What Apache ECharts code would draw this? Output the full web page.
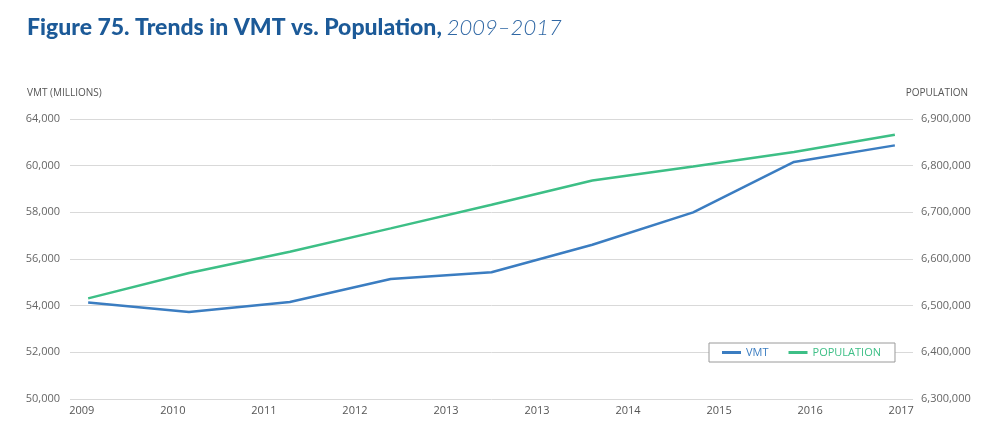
<!DOCTYPE html>
<html>
<head>
<meta charset="utf-8">
<title>Trends in VMT vs. Population</title>
<script src="https://cdn.jsdelivr.net/npm/echarts@6/dist/echarts.min.js"></script>
<style>
    html, body { margin: 0; padding: 0; background: #fff; }
    #chart { width: 1000px; height: 441px; }
</style>
</head>
<body>
<div id="chart"></div>
<script>
"use strict"

// 数据
const years = [2009, 2010, 2011, 2012, 2013, 2014, 2015, 2016, 2017];
const vmt = [54140, 53730, 54160, 55140, 55430, 56610, 58000, 60160, 60870];
const population = [6515600, 6570000, 6615700, 6665600, 6716400, 6768400, 6798400, 6829300, 6866400];

// 刻度文字（原图如此）
const xTickLabels = ["2009", "2010", "2011", "2012", "2013", "2013", "2014", "2015", "2016", "2017"];
const vmtTickLabels = ["50,000", "52,000", "54,000", "56,000", "58,000", "60,000", "64,000"];
const popTickLabels = ["6,300,000", "6,400,000", "6,500,000", "6,600,000", "6,700,000", "6,800,000", "6,900,000"];

const BLUE = "#3b7dc1";
const GREEN = "#3dbf86";
const FONT = "Open Sans";

let myChart = echarts.init(document.getElementById("chart"));

let option = {
    animation: false,
    title: [{
        left: 27,
        top: 16,
        padding: 0,
        text: "{b|Figure 75. Trends in VMT vs. Population,} {i|2009–2017}",
        textStyle: {
            rich: {
                b: { fontFamily: "Lato", fontWeight: 900, fontSize: 23, color: "#1c5a98" },
                i: { fontFamily: "Lato", fontWeight: 300, fontStyle: "italic", fontSize: 22, color: "#2f67a4" }
            }
        }
    }, {
        left: 27,
        top: 88,
        padding: 0,
        text: "VMT (MILLIONS)",
        textStyle: { fontFamily: FONT, fontSize: 10, fontWeight: "normal", color: "#555" }
    }, {
        right: 32,
        top: 88,
        padding: 0,
        text: "POPULATION",
        textStyle: { fontFamily: FONT, fontSize: 10, fontWeight: "normal", color: "#555" }
    }],
    grid: {
        left: 70,
        right: 87,
        top: 119,
        bottom: 42,
        outerBoundsMode: "none"
    },
    legend: {
        left: 709,
        top: 343,
        backgroundColor: "#fff",
        borderColor: "#9a9a9a",
        borderWidth: 1,
        borderRadius: 0,
        padding: [4, 14, 4, 13],
        icon: "rect",
        itemWidth: 19,
        itemHeight: 3,
        itemGap: 20,
        textStyle: { fontFamily: FONT, fontSize: 11 },
        data: [
            { name: "VMT", textStyle: { color: BLUE } },
            { name: "POPULATION", textStyle: { color: GREEN } }
        ]
    },
    xAxis: [{
        // 数据轴
        type: "value",
        min: 2008.82,
        max: 2017.18,
        show: false
    }, {
        // 标签轴
        type: "value",
        min: -0.13,
        max: 9.13,
        position: "bottom",
        axisLine: { show: false },
        axisTick: { show: false },
        splitLine: { show: false },
        axisLabel: {
            customValues: xTickLabels.map((d, i) => i),
            formatter: v => xTickLabels[Math.round(v)],
            margin: 6,
            fontFamily: FONT,
            fontSize: 11,
            color: "#555"
        }
    }],
    yAxis: [{
        type: "value",
        min: 50000,
        max: 62000,
        interval: 2000,
        axisLine: { show: false },
        axisTick: { show: false },
        splitLine: { lineStyle: { color: "#d9d9d9", width: 1 } },
        axisLabel: {
            formatter: v => vmtTickLabels[Math.round((v - 50000) / 2000)],
            margin: 10,
            fontFamily: FONT,
            fontSize: 11,
            color: "#666"
        }
    }, {
        type: "value",
        position: "right",
        min: 6300000,
        max: 6900000,
        interval: 100000,
        axisLine: { show: false },
        axisTick: { show: false },
        splitLine: { show: false },
        axisLabel: {
            formatter: v => popTickLabels[Math.round((v - 6300000) / 100000)],
            margin: 8,
            fontFamily: FONT,
            fontSize: 11,
            color: "#666"
        }
    }],
    series: [{
        name: "VMT",
        type: "line",
        xAxisIndex: 0,
        yAxisIndex: 0,
        data: years.map((y, i) => [y, vmt[i]]),
        showSymbol: false,
        color: BLUE,
        lineStyle: { width: 2.5, color: BLUE }
    }, {
        name: "POPULATION",
        type: "line",
        xAxisIndex: 0,
        yAxisIndex: 1,
        data: years.map((y, i) => [y, population[i]]),
        showSymbol: false,
        color: GREEN,
        lineStyle: { width: 2.5, color: GREEN }
    }]
};

myChart.setOption(option);
</script>
</body>
</html>
